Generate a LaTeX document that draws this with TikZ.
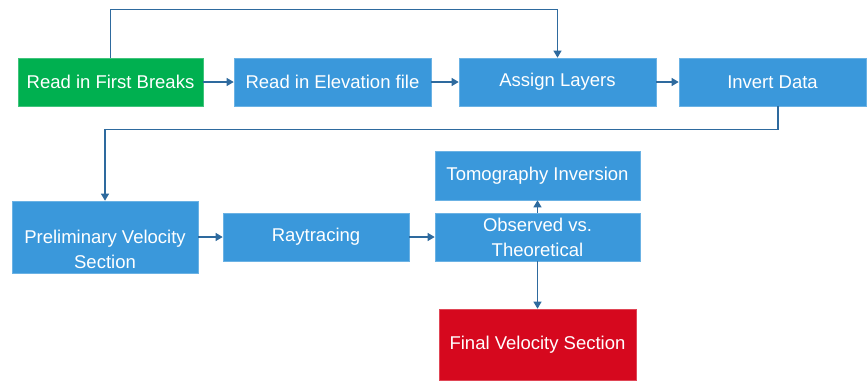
\documentclass[tikz,border=0pt]{standalone}
\usepackage{fontspec}
\setmainfont{Liberation Sans}
\usetikzlibrary{arrows.meta}
\definecolor{boxblue}{RGB}{58,152,219}
\definecolor{boxgreen}{RGB}{0,176,80}
\definecolor{boxred}{RGB}{214,8,30}
\definecolor{linkblue}{RGB}{46,106,158}

\begin{document}
\begin{tikzpicture}[x=1pt,y=-1pt,
		box/.style={fill=boxblue, draw=boxblue!75!white, line width=0.6pt,
			text=white, align=center, inner sep=0pt,
			font=\fontsize{18.5}{25}\selectfont},
		link/.style={draw=linkblue, line width=1.1pt,
			-{Triangle[width=8pt,length=7pt]}}]
	\useasboundingbox (0,0) rectangle (868,381);
	% first row
	\node[box, fill=boxgreen, draw=boxgreen!75!white, minimum width=185, minimum height=48]
		(first) at (110.5,82) {Read in First Breaks};
	\node[box, minimum width=197, minimum height=48] (elev) at (332.5,82) {Read in Elevation file};
	\node[box, minimum width=197, minimum height=48] (assign) at (557.5,82) {Assign Layers};
	\node[box, minimum width=187, minimum height=48] (invert) at (772.5,82) {Invert Data};
	% second row
	\node[box, align=none, minimum width=186, minimum height=72] (prelim) at (105,237)
		{\raisebox{-18pt}[0pt][0pt]{\begin{tabular}{@{}c@{}}Preliminary Velocity\\Section\end{tabular}}};
	\node[box, minimum width=186, minimum height=48] (ray) at (316,237) {Raytracing};
	\node[box, minimum width=205, minimum height=48] (obs) at (537.5,237)
		{Observed vs.\\Theoretical};
	\node[box, minimum width=205, minimum height=49] (tomo) at (537.5,175.5)
		{Tomography Inversion};
	\node[box, fill=boxred, draw=boxred!75!white, minimum width=197, minimum height=71]
		(final) at (537.5,344.5) {Final Velocity Section};
	% connectors
	\draw[link] (first) -- (elev);
	\draw[link] (elev) -- (assign);
	\draw[link] (assign) -- (invert);
	\draw[link] (first.north) -- ++(0,-48) -| (assign.north);
	\draw[link] ([xshift=5.5]invert.south) -- ++(0,23) -| (prelim.north);
	\draw[link] (prelim.east |- ray) -- (ray);
	\draw[link] (ray) -- (obs);
	\draw[link] (obs) -- (tomo);
	\draw[link] (obs) -- (final);
\end{tikzpicture}
\end{document}
